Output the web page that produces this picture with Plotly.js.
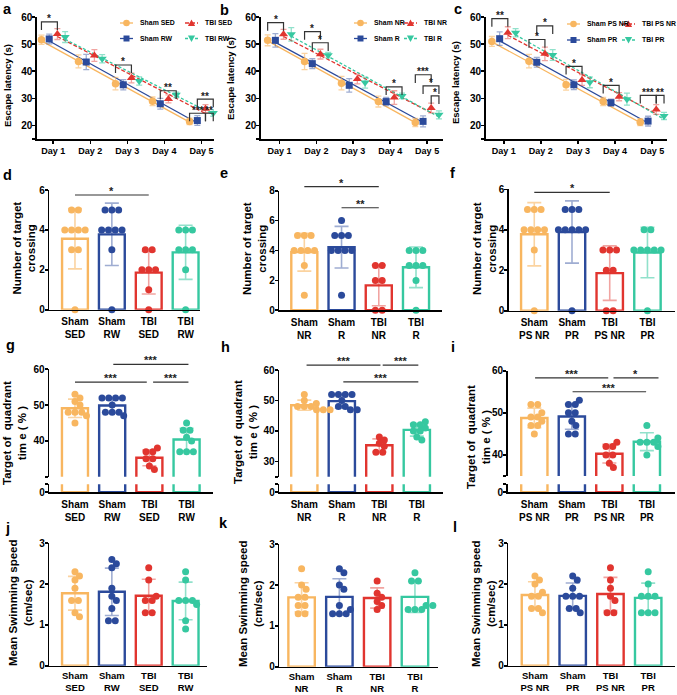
<!DOCTYPE html>
<html><head><meta charset="utf-8">
<script src="https://cdn.plot.ly/plotly-3.0.1.min.js"></script>
<style>html,body{margin:0;padding:0;background:#fff}</style>
</head><body><div id="chart" style="width:677px;height:695px"></div>
<script>
// ================= DATA =================
const days = [1,2,3,4,5];
const dayLabels = ['Day 1','Day 2','Day 3','Day 4','Day 5'];

// a: escape latency (mean, SEM)
const aNames = ['Sham SED','Sham RW','TBI SED','TBI RW'];
const aShamSED=[51.6,43.6,35.4,28.9,21.5], aShamSEDe=[1.7,2.4,2.3,1.6,1.2];
const aShamRW =[51.9,43.4,35.0,28.0,21.8], aShamRWe =[1.8,2.8,1.9,2.0,1.8];
const aTBISED =[53.7,45.8,37.5,29.8,26.2], aTBISEDe =[2.0,2.2,1.8,1.5,1.5];
const aTBIRW  =[52.6,44.6,36.4,31.3,24.6], aTBIRWe  =[2.0,1.5,1.5,1.0,1.2];
// b
const bNames = ['Sham NR','Sham R','TBI NR','TBI R'];
const bShamNR=[51.4,43.6,35.6,28.8,21.1], bShamNRe=[2.0,3.0,2.5,2.0,1.5];
const bShamR =[51.4,42.8,34.8,28.8,21.5], bShamRe =[2.5,1.8,2.5,1.5,2.0];
const bTBINR =[53.6,46.3,37.1,30.3,26.4], bTBINRe =[1.8,1.8,1.8,2.5,1.8];
const bTBIR  =[53.6,45.9,35.8,30.9,23.9], bTBIRe  =[2.5,1.0,2.0,1.0,1.5];
// c
const cNames = ['Sham PS NR','Sham PR','TBI PS NR','TBI PR'];
const cShamPSNR=[51.0,43.7,35.0,28.8,21.2], cShamPSNRe=[1.8,2.5,2.0,1.5,1.3];
const cShamPR  =[52.0,43.3,35.0,28.4,21.6], cShamPRe  =[2.5,1.8,1.8,1.3,1.8];
const cTBIPSNR =[54.2,46.4,36.8,30.6,25.9], cTBIPSNRe =[2.2,2.5,2.0,1.5,1.8];
const cTBIPR   =[54.2,46.0,35.9,29.7,23.5], cTBIPRe   =[1.5,2.0,2.0,2.2,1.3];

// significance brackets for a-c: [day, groupA, groupB, value, label]
const aSig=[[1,0,2,58.2,'*'],[3,0,2,42.3,'*'],[4,1,3,32.8,'**'],[5,0,2,24.5,'***'],[5,2,3,24.5,'**'],[5,1,3,29.7,'**']];
const bSig=[[1,0,2,57.9,'*'],[2,0,2,54.6,'*'],[2,1,3,50.5,'*'],[4,1,3,34.2,'*'],[5,0,2,38.7,'***'],[5,1,3,34.6,'*'],[5,2,3,30.9,'*']];
const cSig=[[1,0,2,59.4,'**'],[2,0,2,51.7,'*'],[2,1,3,56.7,'*'],[3,0,2,41.8,'*'],[4,0,2,34.8,'*'],[5,0,2,31.1,'***'],[5,2,3,31.1,'**']];

// bar panel category labels
const catSED=['Sham<br>SED','Sham<br>RW','TBI<br>SED','TBI<br>RW'];
const catNR =['Sham<br>NR','Sham<br>R','TBI<br>NR','TBI<br>R'];
const catPS =['Sham<br>PS NR','Sham<br>PR','TBI<br>PS NR','TBI<br>PR'];

// d-f: number of target crossing
const dShamSED=[5,5,4,4,4,4,3,3,0], dShamRW=[5,5,5,4,4,4,4,3,0], dTBISED=[3,3,2,2,2,1,0], dTBIRW=[4,4,4,3,3,3,2,0];
const eShamNR=[5,5,5,4,4,4,4,3,1], eShamR=[6,5,5,5,4,4,4,4,1], eTBINR=[3,3,2,2,0,0], eTBIR=[4,4,4,3,3,3,2,0];
const fShamPSNR=[5,5,5,4,4,4,4,3,0], fShamPR=[5,5,5,4,4,4,4,4,0], fTBIPSNR=[3,3,3,2,2,0,0], fTBIPR=[4,4,3,3,3,3,3,0];
// g-i: target quadrant time (%)
const gShamSED=[53,52,51,50,48,48,48,47,45], gShamRW=[52,52,52,52,50,48,48,48,47], gTBISED=[38,37,37,35,35,33,32], gTBIRW=[45,43,43,41,40,37,37,37];
const hShamNR=[52,50,49,48,48,48,47,47,47], hShamR=[52,52,52,52,50,48,48,47,47], hTBINR=[38,37,36,35,33,33], hTBIR=[43,42,42,41,40,40,38,37];
const iShamPSNR=[52,52,50,49,49,48,47,47,45], iShamPR=[53,52,52,50,50,48,47,45,45], iTBIPSNR=[43,42,42,40,40,38,37], iTBIPR=[47,44,43,43,43,42,40];
// j-l: mean swimming speed
const jShamSED=[2.3,2.2,2.1,1.9,1.6,1.6,1.3,1.2], jShamRW=[2.6,2.5,2.4,1.9,1.7,1.6,1.4,1.1,1.1], jTBISED=[2.4,2.1,1.7,1.6,1.6,1.3,1.3], jTBIRW=[2.3,2.1,1.6,1.6,1.6,1.5,1.1,0.9];
const kShamNR=[2.4,2.0,1.9,1.7,1.7,1.5,1.5,1.3,1.3], kShamR=[2.4,2.3,2.0,1.9,1.5,1.4,1.3,1.3,1.3], kTBINR=[2.1,1.8,1.7,1.6,1.5,1.4], kTBIR=[2.3,2.1,2.1,1.5,1.5,1.4,1.4,1.4];
const lShamPSNR=[2.2,2.1,2.0,1.8,1.7,1.7,1.4,1.4,1.3], lShamPR=[2.2,2.1,1.9,1.7,1.7,1.7,1.4,1.4,1.3], lTBIPSNR=[2.4,2.1,1.9,1.7,1.6,1.3,1.3], lTBIPR=[2.3,2.0,1.7,1.7,1.7,1.3,1.3,1.3];

// bar significance lines: [catA, catB, value, label]
const dSig=[[0,2,5.75,'*']];
const eSig=[[0,2,8.27,'*'],[1,2,6.86,'**']];
const fSig=[[0,2,5.85,'*']];
const gSig=[[0,1.93,56.4,'***'],[2.1,3.05,56.4,'***'],[1.03,3.05,61.4,'***']];
const hSig=[[0.06,2.03,61.6,'***'],[2.09,3.04,61.6,'***'],[1.04,3.04,56.1,'***']];
const iSig=[[0.02,1.97,58.3,'***'],[2.11,3.31,58.3,'*'],[1.02,2.98,55.0,'***']];

// ================= STYLE / LAYOUT =================
const W=677,H=695;
const fx=p=>p/W, fy=p=>1-p/H;
const FONT='"Liberation Sans", Arial, sans-serif';
const COL=['#F8B660','#2B4A9B','#E1352F','#36C8A0'];
const ECOL=['rgba(248,182,96,0.6)','rgba(43,74,155,0.45)','rgba(225,53,47,0.45)','rgba(54,200,160,0.55)'];
const SYM=['circle','square','triangle-up','triangle-down'];
const MSZ=[7.5,7,8,8];
const DASH=['solid','solid','4px,2px','3px,2px'];
const OFF=[-0.32,-0.11,0.11,0.32];
const tf=s=>({family:FONT,size:s,color:'#000',weight:'bold'});
const axBase={showline:true,linecolor:'#000',linewidth:1.6,showgrid:false,zeroline:false,ticks:'outside',ticklen:3,tickwidth:1.6,tickcolor:'#000',tickfont:tf(10),fixedrange:true,tickmode:'array'};

const layout={width:W,height:H,margin:{l:0,r:0,t:0,b:0},paper_bgcolor:'#fff',plot_bgcolor:'rgba(0,0,0,0)',
  showlegend:false,barmode:'overlay',annotations:[],shapes:[],font:{family:FONT,color:'#000'}};
const traces=[];
let nx=0,ny=0;
const newX=()=>{nx++;return nx===1?'x':'x'+nx;};
const newY=()=>{ny++;return ny===1?'y':'y'+ny;};
const axKey=id=>id[0]+'axis'+id.slice(1);
const mkGeo=(xL,xR,xr,yT,yB,yr)=>({X:v=>xL+(v-xr[0])/(xr[1]-xr[0])*(xR-xL),Y:v=>yB-(v-yr[0])/(yr[1]-yr[0])*(yB-yT)});
const mean=a=>a.reduce((s,v)=>s+v,0)/a.length;
const sd=a=>{const m=mean(a);return Math.sqrt(a.reduce((s,v)=>s+(v-m)*(v-m),0)/(a.length-1));};

function star(xp,yp,label,size){
  layout.annotations.push({xref:'paper',yref:'paper',x:fx(xp),y:fy(yp),text:label,showarrow:false,
    xanchor:'center',yanchor:'middle',font:Object.assign(tf(size||11),{color:'#222'})});
}
function pathStr(pts,close){return pts.map((p,i)=>(i?'L':'M')+fx(p[0]).toFixed(5)+','+fy(p[1]).toFixed(5)).join(' ')+(close?' Z':'');}
function pathShape(pts){
  layout.shapes.push({type:'path',xref:'paper',yref:'paper',path:pathStr(pts),line:{color:'#333',width:1.2}});
}
// legend key (line sample + symbol + label), drawn in paper space
function legendKey(tx,ty,k,name){
  layout.shapes.push({type:'line',xref:'paper',yref:'paper',x0:fx(tx-18),x1:fx(tx-5),y0:fy(ty),y1:fy(ty),
    line:{color:COL[k],width:1.3,dash:DASH[k]}});
  const cx=tx-11.5,r=3.3,mk={xref:'paper',yref:'paper',fillcolor:COL[k],line:{width:0}};
  if(k===0) layout.shapes.push(Object.assign({type:'circle',x0:fx(cx-r),x1:fx(cx+r),y0:fy(ty+r),y1:fy(ty-r)},mk));
  else if(k===1) layout.shapes.push(Object.assign({type:'rect',x0:fx(cx-3),x1:fx(cx+3),y0:fy(ty+3),y1:fy(ty-3)},mk));
  else if(k===2) layout.shapes.push(Object.assign({type:'path',path:pathStr([[cx-3.6,ty+3],[cx+3.6,ty+3],[cx,ty-3.4]],true)},mk));
  else layout.shapes.push(Object.assign({type:'path',path:pathStr([[cx-3.6,ty-3],[cx+3.6,ty-3],[cx,ty+3.4]],true)},mk));
  layout.annotations.push({xref:'paper',yref:'paper',x:fx(tx),y:fy(ty),text:name,showarrow:false,xanchor:'left',yanchor:'middle',font:tf(6.9)});
}

// ---------- line panels ----------
const LY={yT:17,yB:139,s0:145,s1:151};
function linePanel(P){
  const xid=newX(),yid=newY(),sid=newY();
  const g=P.geo;
  layout[axKey(xid)]=Object.assign({},axBase,{domain:[fx(g.xL),fx(g.xR)],range:g.xr,anchor:sid,tickvals:days,ticktext:dayLabels,ticklen:3,tickfont:tf(9)});
  layout[axKey(yid)]=Object.assign({},axBase,{domain:[fy(LY.yB),fy(LY.yT)],range:[15,60],anchor:xid,tickvals:[15,20,30,40,50,60],ticktext:['','20','30','40','50','60'],ticklabelstandoff:-2});
  layout[axKey(sid)]=Object.assign({},axBase,{domain:[fy(LY.s1),fy(LY.s0)],range:[0,1],anchor:xid,tickvals:[0,1],ticktext:['0',''],ticklabelstandoff:-2});
  const G=mkGeo(g.xL,g.xR,g.xr,LY.yT,LY.yB,[15,60]);
  for(let k=0;k<4;k++){
    const xs=days.map(d=>d+OFF[k]), ys=P.means[k];
    const mx=mean(xs),my=mean(ys);let sxy=0,sxx=0;
    xs.forEach((x,i)=>{sxy+=(x-mx)*(ys[i]-my);sxx+=(x-mx)*(x-mx);});
    const b=sxy/sxx,a=my-b*mx,x0=xs[0],x1=xs[xs.length-1];
    traces.push({type:'scatter',mode:'lines',x:[x0,x1],y:[a+b*x0,a+b*x1],xaxis:xid,yaxis:yid,
      line:{color:COL[k],width:1.3,dash:DASH[k]},hoverinfo:'skip'});
  }
  for(let k=0;k<4;k++){
    traces.push({type:'scatter',mode:'markers',x:days.map(d=>d+OFF[k]),y:P.means[k],xaxis:xid,yaxis:yid,name:P.names[k],
      marker:{symbol:SYM[k],size:MSZ[k],color:COL[k]},
      error_y:{type:'data',array:P.errs[k],color:ECOL[k],thickness:1.3,width:3},cliponaxis:false,hoverinfo:'skip'});
  }
  for(let k=0;k<4;k++) legendKey(P.leg[k][0],P.leg[k][1],k,P.names[k]);
  P.sig.forEach(s=>{
    const xa=G.X(s[0]+OFF[s[1]]),xb=G.X(s[0]+OFF[s[2]]),yt=G.Y(s[3]),yl=G.Y(s[3]-3);
    pathShape([[xa,yl],[xa,yt],[xb,yt],[xb,yl]]);
    star((xa+xb)/2,yt-3,s[4],10);
  });
}

// ---------- bar panels ----------
function swarm(vals,xc,pxX,pxY,d){
  const groups={};vals.forEach((v,i)=>{(groups[v]=groups[v]||[]).push(i);});
  const keys=Object.keys(groups).sort((a,b)=>groups[b].length-groups[a].length||b-a);
  const placed=[],xs=new Array(vals.length);
  const cand=[0];for(let s=1;s<=60;s++){cand.push(s*0.5,-s*0.5);}
  keys.forEach(key=>{
    const idx=groups[key],n=idx.length,yv=+key;let shift=0;
    for(const sh of cand){
      const pos=idx.map((_,j)=>(j-(n-1)/2)*d+sh);
      if(pos.every(p=>placed.every(q=>Math.hypot(p-q.x,(yv-q.y)*pxY)>=d*0.85))){shift=sh;break;}
    }
    idx.forEach((i,j)=>{const p=(j-(n-1)/2)*d+shift;xs[i]=xc+p/pxX;placed.push({x:p,y:yv});});
  });
  return xs;
}
function barPanel(P){
  const g=P.geo,xid=newX(),yid=newY(),sid=P.broken?newY():null;
  const yBot=P.broken?g.yBr:g.yB;
  layout[axKey(xid)]=Object.assign({},axBase,{domain:[fx(g.xL),fx(g.xR)],range:g.xr,anchor:P.broken?sid:yid,
    tickvals:[0,1,2,3],ticktext:P.cats,ticklen:2,tickcolor:'rgba(0,0,0,0)',tickfont:tf(P.tfs||10),ticklabelstandoff:P.xso||0});
  layout[axKey(yid)]=Object.assign({},axBase,{domain:[fy(yBot),fy(g.yT)],range:g.yr,anchor:xid,tickvals:P.tv,ticktext:P.tt,ticklabelstandoff:-2});
  if(P.broken){
    layout[axKey(sid)]=Object.assign({},axBase,{domain:[fy(g.s1),fy(g.s0)],range:[0,1],anchor:xid,tickvals:[0,1],ticktext:['0',''],ticklabelstandoff:-2});
  }
  const G=mkGeo(g.xL,g.xR,g.xr,g.yT,yBot,g.yr);
  const pxX=(g.xR-g.xL)/(g.xr[1]-g.xr[0]),pxY=(yBot-g.yT)/(g.yr[1]-g.yr[0]);
  for(let k=0;k<4;k++){
    const v=P.vals[k],m=mean(v),s=sd(v);
    traces.push({type:'bar',x:[k],y:[m],width:0.7,xaxis:xid,yaxis:yid,hoverinfo:'skip',
      marker:{color:'#fff',line:{color:COL[k],width:2.4}},
      error_y:{type:'data',array:[s],color:ECOL[k],thickness:1.6,width:7}});
    if(P.broken){
      traces.push({type:'bar',x:[k],y:[m],width:0.7,xaxis:xid,yaxis:sid,hoverinfo:'skip',
        marker:{color:'#fff',line:{color:COL[k],width:2.4}}});
    }
  }
  for(let k=0;k<4;k++){
    const v=P.vals[k];
    traces.push({type:'scatter',mode:'markers',x:swarm(v,k,pxX,pxY,6.8),y:v,xaxis:xid,yaxis:yid,
      hoverinfo:'skip',cliponaxis:false,marker:{size:7,color:COL[k]}});
  }
  P.sig.forEach(s=>{
    const xa=G.X(s[0]),xb=G.X(s[1]),yl=G.Y(s[2]);
    pathShape([[xa,yl],[xb,yl]]);
    star((xa+xb)/2,yl-4,s[3],11);
  });
}

// ---------- build panels ----------
linePanel({names:aNames,means:[aShamSED,aShamRW,aTBISED,aTBIRW],errs:[aShamSEDe,aShamRWe,aTBISEDe,aTBIRWe],sig:aSig,
  geo:{xL:37,xR:214,xr:[0.56,5.34]},leg:[[138,23],[138,38.5],[203,23],[203,38.5]]});
linePanel({names:bNames,means:[bShamNR,bShamR,bTBINR,bTBIR],errs:[bShamNRe,bShamRe,bTBINRe,bTBIRe],sig:bSig,
  geo:{xL:261,xR:443,xr:[0.5,5.43]},leg:[[372,23],[372,38.5],[422,23],[422,38.5]]});
linePanel({names:cNames,means:[cShamPSNR,cShamPR,cTBIPSNR,cTBIPR],errs:[cShamPSNRe,cShamPRe,cTBIPSNRe,cTBIPRe],sig:cSig,
  geo:{xL:485.7,xR:667,xr:[0.514,5.40]},leg:[[585,24],[585,40],[640,24],[640,40]]});

const tv6=[0,2,4,6],tv8=[0,2,4,6,8],tv3=[0,1,2,3];
barPanel({cats:catSED,vals:[dShamSED,dShamRW,dTBISED,dTBIRW],sig:dSig,tv:tv6,tt:tv6.map(String),
  geo:{xL:49.3,xR:200,xr:[-0.696,3.39],yT:190,yB:309.7,yr:[0,6]}});
barPanel({cats:catNR,vals:[eShamNR,eShamR,eTBINR,eTBIR],sig:eSig,tv:tv8,tt:tv8.map(String),
  geo:{xL:279.3,xR:441.7,xr:[-0.672,3.69],yT:190.7,yB:310.3,yr:[0,8]}});
barPanel({cats:catPS,vals:[fShamPSNR,fShamPR,fTBIPSNR,fTBIPR],sig:fSig,tv:tv6,tt:tv6.map(String),
  geo:{xL:509,xR:675,xr:[-0.67,3.73],yT:189.3,yB:310.7,yr:[0,6]}});
barPanel({cats:catSED,vals:[gShamSED,gShamRW,gTBISED,gTBIRW],sig:gSig,broken:true,tv:[30,40,50,60],tt:['','40','50','60'],
  geo:{xL:49.3,xR:213,xr:[-0.69,3.71],yT:369.3,yBr:476.7,s0:484.3,s1:492.3,yr:[30,60]}});
barPanel({cats:catNR,vals:[hShamNR,hShamR,hTBINR,hTBIR],sig:hSig,broken:true,tv:[25,30,40,50,60],tt:['','30','40','50','60'],
  geo:{xL:279.3,xR:442.7,xr:[-0.667,3.69],yT:370,yBr:476.7,s0:484.3,s1:492.3,yr:[25,60]}});
barPanel({cats:catPS,vals:[iShamPSNR,iShamPR,iTBIPSNR,iTBIPR],sig:iSig,broken:true,tv:[35,40,50,60],tt:['','40','50','60'],
  geo:{xL:507.7,xR:675,xr:[-0.71,3.75],yT:370.7,yBr:476,s0:484.3,s1:492.3,yr:[35,60]}});
barPanel({cats:catSED,vals:[jShamSED,jShamRW,jTBISED,jTBIRW],sig:[],tv:tv3,tt:tv3.map(String),tfs:9.5,xso:-2,
  geo:{xL:49.3,xR:207,xr:[-0.696,3.58],yT:543.3,yB:665.7,yr:[0,3]}});
barPanel({cats:catNR,vals:[kShamNR,kShamR,kTBINR,kTBIR],sig:[],tv:tv3,tt:tv3.map(String),tfs:9.5,xso:-2,
  geo:{xL:279.3,xR:438,xr:[-0.59,3.61],yT:544.3,yB:666.7,yr:[0,3]}});
barPanel({cats:catPS,vals:[lShamPSNR,lShamPR,lTBIPSNR,lTBIPR],sig:[],tv:tv3,tt:tv3.map(String),tfs:9.5,xso:-2,
  geo:{xL:508.3,xR:675,xr:[-0.706,3.71],yT:543.3,yB:665.7,yr:[0,3]}});

// ---------- text: panel letters and axis titles ----------
const letters=[['a',7,9.5],['b',224,10],['c',458,9.5],['d',7,175],['e',224,173],['f',453,173],
  ['g',10,345],['h',225,347],['i',453,347],['j',7,528],['k',223,523],['l',455,527]];
letters.forEach(L=>layout.annotations.push({xref:'paper',yref:'paper',x:fx(L[1]),y:fy(L[2]),text:L[0],showarrow:false,
  xanchor:'center',yanchor:'middle',font:tf(14.5)}));
const titles=[['Escape latency (s)',7,86,9.5],['Escape latency (s)',230,79,9.5],['Escape latency (s)',455,83,9.5],
  ['Number of target<br>crossing',24.5,248,11.5],['Number of target<br>crossing',254,249,11.5],['Number of target<br>crossing',484,249,11.5],
  ['Target of  quadrant<br>tim e ( % )',14,433,11.5],['Target of  quadrant<br>tim e ( % )',246,432,11.5],['Target of  quadrant<br>tim e ( % )',478,437,11.5],
  ['Mean Swimming speed<br>(cm/sec)',20,603,11.5],['Mean Swimming speed<br>(cm/sec)',250,604,11.5],['Mean Swimming speed<br>(cm/sec)',483,604,11.5]];
titles.forEach(T=>layout.annotations.push({xref:'paper',yref:'paper',x:fx(T[1]),y:fy(T[2]),text:T[0],showarrow:false,
  textangle:-90,xanchor:'center',yanchor:'middle',font:tf(T[3])}));

Plotly.newPlot('chart',traces,layout,{staticPlot:true,displayModeBar:false});
</script></body></html>
